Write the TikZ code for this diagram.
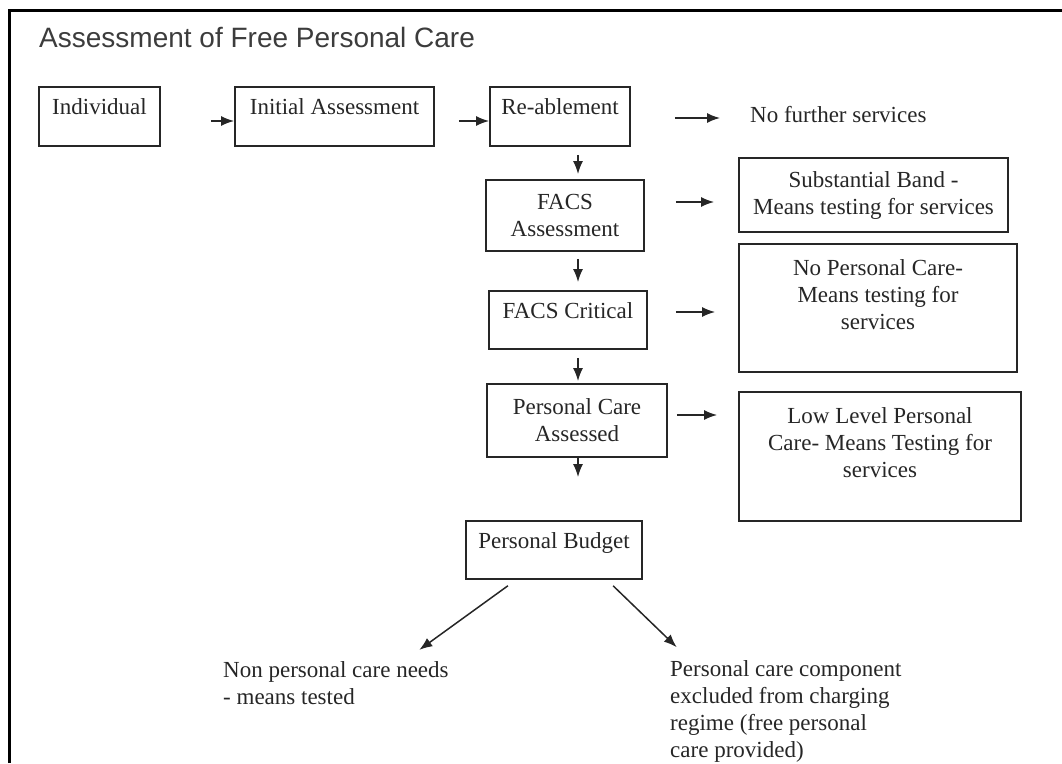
\documentclass[tikz,border=0pt]{standalone}
\usepackage{fontspec}
\setmainfont{Liberation Serif}
\newfontfamily\titlefont{Liberation Sans}
\usetikzlibrary{arrows.meta}
\definecolor{ink}{RGB}{38,38,38}
\tikzset{
  box/.style={draw=ink, line width=1.8pt, align=center, inner sep=0pt, text=ink},
  note/.style={inner sep=0pt, align=left, text=ink}
}
\begin{document}
\begin{tikzpicture}[x=1pt, y=-1pt, font=\fontsize{23}{27}\selectfont,
    >={Latex[length=13pt,width=10pt]}]
  \useasboundingbox (0,0) rectangle (1062,763);
  \draw[line width=3pt] (9,763) -- (9,10) -- (1062,10);
  \draw
    (39,47) node[anchor=base west, inner sep=0pt, text=ink!90,
      font=\titlefont\fontsize{28}{34}\selectfont] (title) {Assessment of Free Personal Care}
    (99.5,116.5) node[box, minimum width=121pt, minimum height=59pt] (indiv) {Individual\\[-8pt]~}
    (334.5,116.5) node[box, minimum width=199pt, minimum height=59pt] (initial) {Initial Assessment\\[-8pt]~}
    (560,116.5) node[box, minimum width=140pt, minimum height=59pt] (reab) {Re-ablement\\[-8pt]~}
    (750,122) node[note, anchor=base west] (nofurther) {No further services}
    (565,215.5) node[box, minimum width=158pt, minimum height=71pt] (facs) {FACS\\Assessment}
    (873.5,195) node[box, minimum width=269pt, minimum height=74pt] (subst) {Substantial Band -\\Means testing for services}
    (568,320) node[box, minimum width=158pt, minimum height=58pt] (crit) {FACS Critical\\[-8pt]~}
    (878,308) node[box, minimum width=278pt, minimum height=128pt] (nopc) {No Personal Care-\\Means testing for\\services\\~}
    (577,420.5) node[box, minimum width=180pt, minimum height=73pt] (pca) {Personal Care\\Assessed}
    (880,456.5) node[box, minimum width=282pt, minimum height=129pt] (low) {Low Level Personal\\Care- Means Testing for\\services\\~}
    (554,550) node[box, minimum width=176pt, minimum height=58pt] (budget) {Personal Budget\\[-8pt]~}
    (223,661) node[note, anchor=north west] (needs) {Non personal care needs\\- means tested}
    (670,660) node[note, anchor=north west] (free) {Personal care component\\excluded from charging\\regime (free personal\\care provided)};
  \coordinate (col) at (578,0);
  \begin{scope}[->, draw=ink, line width=1.5pt]
    \draw[shorten <=50pt] ([yshift=-4.5pt]indiv.east) -- ([yshift=-4.5pt]indiv.east -| initial.west);
    \draw[shorten <=24pt] ([yshift=-4.5pt]initial.east) -- ([yshift=-4.5pt]initial.east -| reab.west);
    \draw[shorten <=44pt, shorten >=30pt] ([yshift=-1.5pt]reab.east) -- ([yshift=-1.5pt]reab.east -| nofurther.west);
    \draw[shorten <=8pt, shorten >=5pt] (reab.south -| col) -- (facs.north -| col);
    \draw[shorten <=7pt, shorten >=8pt] (facs.south -| col) -- (crit.north -| col);
    \draw[shorten <=8pt, shorten >=2pt] (crit.south -| col) -- (pca.north -| col);
    \draw[shorten >=43pt] (pca.south -| col) -- (budget.north -| col);
    \draw[shorten <=31pt, shorten >=24pt] ([yshift=13.5pt]facs.east) -- ([yshift=13.5pt]facs.east -| subst.west);
    \draw[shorten <=28pt, shorten >=23pt] ([yshift=8pt]crit.east) -- ([yshift=8pt]crit.east -| nopc.west);
    \draw[shorten <=9pt, shorten >=21pt] ([yshift=5.5pt]pca.east) -- ([yshift=5.5pt]pca.east -| low.west);
    \draw[shorten <=10pt, shorten >=19pt] ([xshift=-38pt]budget.south) -- ([xshift=68pt]needs.north);
    \draw[shorten <=8.5pt, shorten >=18.5pt] ([xshift=53pt]budget.south) -- ([xshift=20pt]free.north west);
  \end{scope}
\end{tikzpicture}
\end{document}
